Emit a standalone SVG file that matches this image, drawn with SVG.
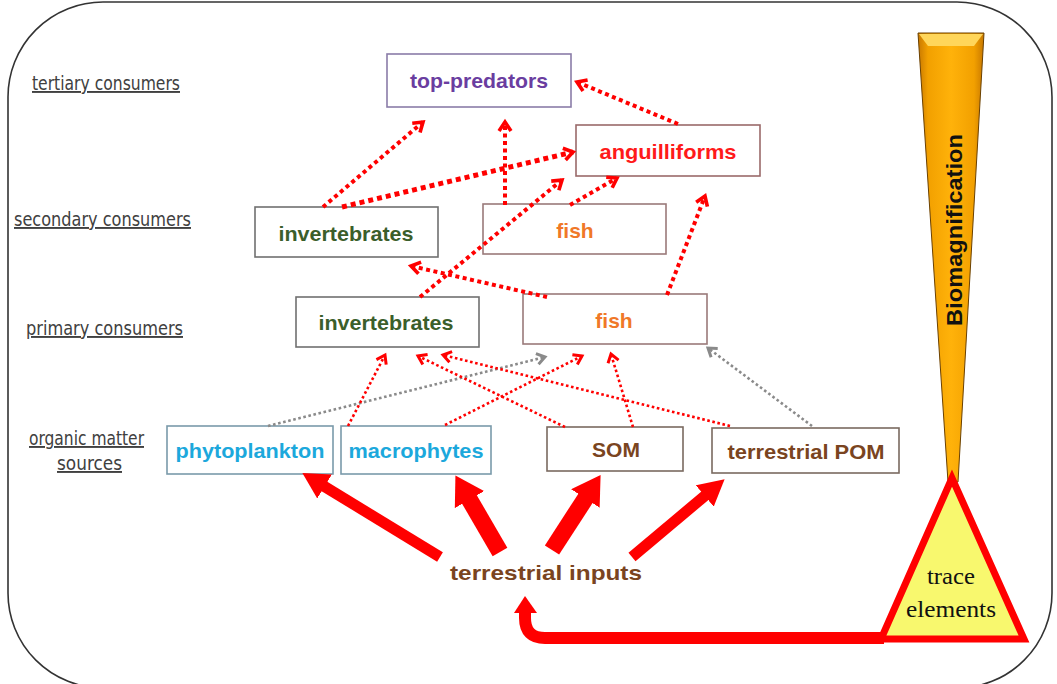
<svg xmlns="http://www.w3.org/2000/svg" width="1057" height="684" viewBox="0 0 1057 684">
<style>
.lvl{font-family:"Liberation Sans Narrow","DejaVu Sans Condensed","Liberation Sans",sans-serif;font-size:19px;fill:#404040;text-decoration:underline;}
.lbl{font-family:"Liberation Sans",Arial,sans-serif;font-size:21px;font-weight:bold;text-anchor:middle;}
.box{fill:#fff;stroke-width:1.6;}
.up{fill:none;stroke:#F00;stroke-width:4;stroke-dasharray:4 3.5;}
.upb{fill:none;stroke:#F00;stroke-width:5;stroke-dasharray:5 4;}
.lo{fill:none;stroke:#F00;stroke-width:2.6;stroke-dasharray:2.6 2.6;}
.gr{fill:none;stroke:#8a8a8a;stroke-width:2.6;stroke-dasharray:2.6 2.6;}
.big{stroke:#F00;fill:none;stroke-linecap:butt;}
</style>
<defs>
<marker id="chev" markerUnits="userSpaceOnUse" markerWidth="16" markerHeight="16" viewBox="-2 -2 16 16" refX="10" refY="6" orient="auto" overflow="visible"><path d="M1,0 L10,6 L1,12" fill="none" stroke="#F00" stroke-width="3.6" stroke-dasharray="none"/></marker>
<marker id="chevS" markerUnits="userSpaceOnUse" markerWidth="14" markerHeight="14" viewBox="-2 -2 14 14" refX="9" refY="5.5" orient="auto" overflow="visible"><path d="M1,0 L9,5.5 L1,11" fill="none" stroke="#F00" stroke-width="3" stroke-dasharray="none"/></marker>
<marker id="chevG" markerUnits="userSpaceOnUse" markerWidth="14" markerHeight="14" viewBox="-2 -2 14 14" refX="9" refY="5.5" orient="auto" overflow="visible"><path d="M1,0 L9,5.5 L1,11" fill="none" stroke="#8a8a8a" stroke-width="3" stroke-dasharray="none"/></marker>
<marker id="headA" markerUnits="userSpaceOnUse" markerWidth="26" markerHeight="28" viewBox="0 0 26 28" refX="3" refY="14" orient="auto"><path d="M0,0 L26,14 L0,28Z" fill="#F00"/></marker>
<marker id="headB" markerUnits="userSpaceOnUse" markerWidth="28" markerHeight="34" viewBox="0 0 28 34" refX="3" refY="17" orient="auto"><path d="M0,0 L28,17 L0,34Z" fill="#F00"/></marker>
<linearGradient id="bar" x1="0" y1="0" x2="1" y2="0">
<stop offset="0" stop-color="#C87800"/><stop offset="0.15" stop-color="#F2A000"/><stop offset="0.5" stop-color="#FFB20A"/><stop offset="0.85" stop-color="#F2A000"/><stop offset="1" stop-color="#C87800"/>
</linearGradient>
</defs>
<rect x="0" y="0" width="1057" height="684" fill="#fff"/>
<rect id="frame" x="8" y="2" width="1044" height="686" rx="95" ry="95" fill="#fff" stroke="#333" stroke-width="1.6"/>

<g id="levels">
<text class="lvl" x="32" y="90" textLength="148" lengthAdjust="spacingAndGlyphs">tertiary consumers</text>
<text class="lvl" x="14" y="226" textLength="177" lengthAdjust="spacingAndGlyphs">secondary consumers</text>
<text class="lvl" x="26" y="335" textLength="157" lengthAdjust="spacingAndGlyphs"> primary consumers</text>
<text class="lvl" x="29" y="445" textLength="115" lengthAdjust="spacingAndGlyphs">organic matter</text>
<text class="lvl" x="57" y="470" textLength="65" lengthAdjust="spacingAndGlyphs">sources</text>
</g>

<g id="biomagnification">
<polygon points="918,33 984,33 958,482 948,482" fill="url(#bar)" stroke="#6a4000" stroke-width="1"/>
<polygon points="919,34 983,34 974,46 928,46" fill="#FFD65A"/>
<text x="962" y="230" transform="rotate(-90 962 230)" font-family="Liberation Sans,Arial,sans-serif" font-size="22" font-weight="bold" fill="#111" text-anchor="middle" textLength="192" lengthAdjust="spacingAndGlyphs">Biomagnification</text>
</g>

<g id="top-predators"><rect class="box" x="387" y="54" width="184" height="53" stroke="#8a7ca8"/><text class="lbl" x="479" y="88" fill="#6A3DA0" textLength="138" lengthAdjust="spacingAndGlyphs">top-predators</text></g>
<g id="anguilliforms"><rect class="box" x="576" y="125" width="184" height="51" stroke="#9a6a6a"/><text class="lbl" x="668" y="159" fill="#FF1A1A" textLength="137" lengthAdjust="spacingAndGlyphs">anguilliforms</text></g>
<g id="sec-invertebrates"><rect class="box" x="255" y="207" width="183" height="50" stroke="#707070"/><text class="lbl" x="346" y="241" fill="#3B5E2B" textLength="135" lengthAdjust="spacingAndGlyphs">invertebrates</text></g>
<g id="sec-fish"><rect class="box" x="483" y="204" width="183" height="50" stroke="#9a7a7a"/><text class="lbl" x="575" y="238" fill="#F07828">fish</text></g>
<g id="pri-invertebrates"><rect class="box" x="296" y="297" width="183" height="50" stroke="#707070"/><text class="lbl" x="386" y="330" fill="#3B5E2B" textLength="135" lengthAdjust="spacingAndGlyphs">invertebrates</text></g>
<g id="pri-fish"><rect class="box" x="523" y="294" width="184" height="50" stroke="#9a7a7a"/><text class="lbl" x="614" y="328" fill="#F07828">fish</text></g>
<g id="phytoplankton"><rect class="box" x="167" y="426" width="166" height="48" stroke="#7a9aaa"/><text class="lbl" x="250" y="458" fill="#1CA8DC" textLength="149" lengthAdjust="spacingAndGlyphs">phytoplankton</text></g>
<g id="macrophytes"><rect class="box" x="341" y="426" width="150" height="48" stroke="#7a9aaa"/><text class="lbl" x="416" y="458" fill="#1CA8DC" textLength="135" lengthAdjust="spacingAndGlyphs">macrophytes</text></g>
<g id="SOM"><rect class="box" x="547" y="427" width="136" height="44" stroke="#7a6a60"/><text class="lbl" x="616" y="457" fill="#7A4420">SOM</text></g>
<g id="terrestrial-POM"><rect class="box" x="712" y="428" width="187" height="45" stroke="#7a6a60"/><text class="lbl" x="806" y="459" fill="#7A4420" textLength="157" lengthAdjust="spacingAndGlyphs">terrestrial POM</text></g>
<g id="terrestrial-inputs"><text class="lbl" x="546" y="580" font-size="23" fill="#7A4420" textLength="192" lengthAdjust="spacingAndGlyphs">terrestrial  inputs</text></g>

<g id="connectors">
<line class="up" x1="323" y1="207" x2="423" y2="122" marker-end="url(#chev)"/>
<line class="upb" x1="342" y1="207" x2="573" y2="152" marker-end="url(#chev)"/>
<line class="up" x1="505" y1="205" x2="505" y2="122" marker-end="url(#chev)"/>
<line class="up" x1="420" y1="297" x2="562" y2="180" marker-end="url(#chev)"/>
<line class="up" x1="570" y1="205" x2="617" y2="178" marker-end="url(#chev)"/>
<line class="up" x1="667" y1="295" x2="705" y2="196" marker-end="url(#chev)"/>
<line class="up" x1="678" y1="124" x2="577" y2="82" marker-end="url(#chev)"/>
<line class="up" x1="547" y1="297" x2="411" y2="266" marker-end="url(#chev)"/>

<line class="gr" x1="268" y1="426" x2="545" y2="357" marker-end="url(#chevG)"/>
<line class="gr" x1="812" y1="426" x2="708" y2="348" marker-end="url(#chevG)"/>
<line class="lo" x1="348" y1="426" x2="385" y2="355" marker-end="url(#chevS)"/>
<line class="lo" x1="445" y1="425" x2="582" y2="356" marker-end="url(#chevS)"/>
<line class="lo" x1="565" y1="427" x2="418" y2="356" marker-end="url(#chevS)"/>
<line class="lo" x1="633" y1="427" x2="611" y2="354" marker-end="url(#chevS)"/>
<line class="lo" x1="730" y1="426" x2="443" y2="355" marker-end="url(#chevS)"/>

<line class="big" stroke-width="11" x1="440" y1="557" x2="322" y2="485" marker-end="url(#headA)"/>
<line class="big" stroke-width="17" x1="500" y1="552" x2="468" y2="497" marker-end="url(#headB)"/>
<line class="big" stroke-width="17" x1="552" y1="550" x2="587" y2="496" marker-end="url(#headB)"/>
<line class="big" stroke-width="11" x1="632" y1="557" x2="707" y2="494" marker-end="url(#headA)"/>

<path d="M884,638 H545 Q525,638 525,618 V611" fill="none" stroke="#F00" stroke-width="12"/>
<polygon points="514,613 525,596 537,613" fill="#F00"/>
</g>

<g id="trace-elements">
<polygon points="952,478 881,639 1024,639" fill="#F8F86E" stroke="#F00" stroke-width="7" stroke-linejoin="miter"/>
<text x="951" y="584" font-family="Liberation Serif,Times New Roman,serif" font-size="23" fill="#111" text-anchor="middle" textLength="48" lengthAdjust="spacingAndGlyphs">trace</text>
<text x="951" y="617" font-family="Liberation Serif,Times New Roman,serif" font-size="23" fill="#111" text-anchor="middle" textLength="90" lengthAdjust="spacingAndGlyphs">elements</text>
</g>
</svg>
